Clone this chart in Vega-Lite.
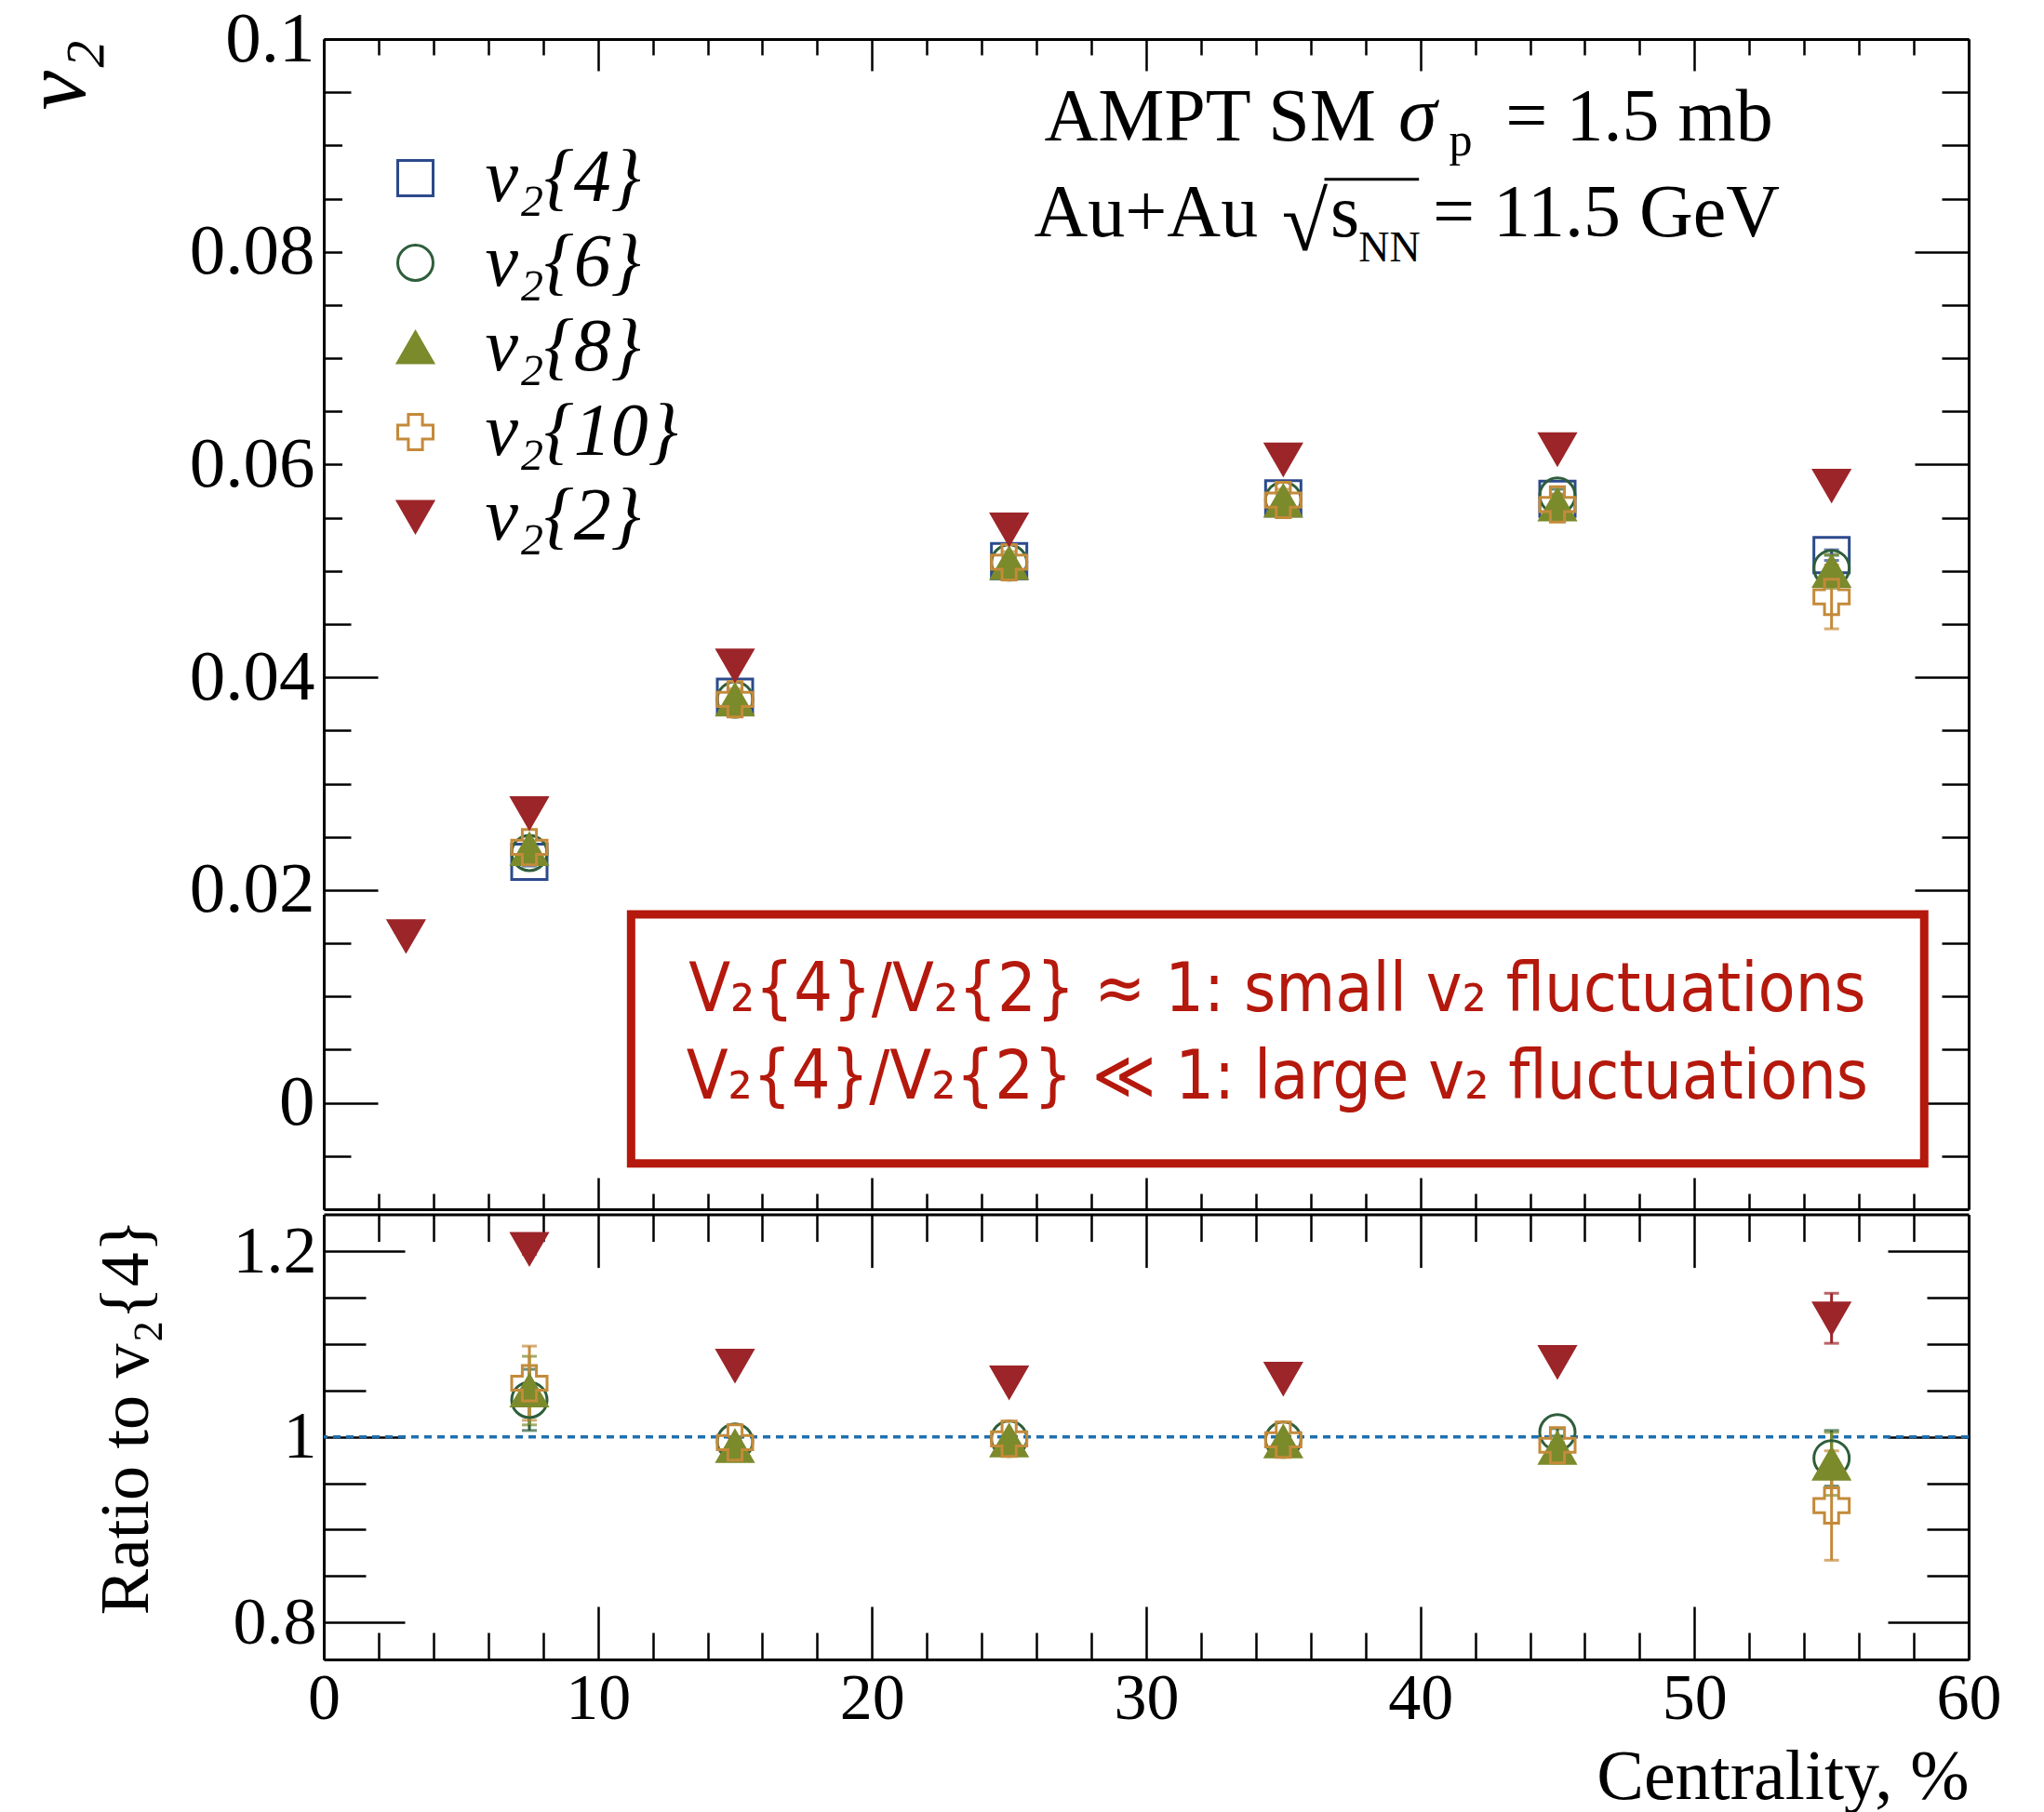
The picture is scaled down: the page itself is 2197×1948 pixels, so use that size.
{
  "$schema": "https://vega.github.io/schema/vega-lite/v6.json",
  "width": 1768,
  "height": 1742,
  "autosize": {"type": "none"},
  "padding": {"left": 348, "top": 42, "right": 81, "bottom": 164},
  "background": "white",
  "config": {
    "view": {"stroke": null},
    "font": "Liberation Serif",
    "axis": {"grid": false, "labelFont": "Liberation Serif", "titleFont": "Liberation Serif", "domainColor": "black", "tickColor": "black", "labelColor": "black", "titleColor": "black", "domainWidth": 3, "tickWidth": 2.5, "labelOverlap": false, "labelFlush": false, "titleFontWeight": "normal", "labelFontWeight": "normal"}
  },
  "datasets": {
    "top": [
      {"series": "v₂{4}", "x": 7.5, "v": 0.02266, "err": 0.0004},
      {"series": "v₂{4}", "x": 15, "v": 0.03818, "err": 0.0004},
      {"series": "v₂{4}", "x": 25, "v": 0.05092, "err": 0.0004},
      {"series": "v₂{4}", "x": 35, "v": 0.05683, "err": 0.0004},
      {"series": "v₂{4}", "x": 45, "v": 0.05679, "err": 0.0004},
      {"series": "v₂{4}", "x": 55, "v": 0.05149, "err": 0.0005},
      {"series": "v₂{6}", "x": 7.5, "v": 0.0235, "err": 0.0006},
      {"series": "v₂{6}", "x": 15, "v": 0.03792, "err": 0.0006},
      {"series": "v₂{6}", "x": 25, "v": 0.05079, "err": 0.0006},
      {"series": "v₂{6}", "x": 35, "v": 0.0567, "err": 0.0006},
      {"series": "v₂{6}", "x": 45, "v": 0.05708, "err": 0.0006},
      {"series": "v₂{6}", "x": 55, "v": 0.05027, "err": 0.0012},
      {"series": "v₂{8}", "x": 7.5, "v": 0.02384, "err": 0.0008},
      {"series": "v₂{8}", "x": 15, "v": 0.0379, "err": 0.0008},
      {"series": "v₂{8}", "x": 25, "v": 0.05073, "err": 0.0008},
      {"series": "v₂{8}", "x": 35, "v": 0.05658, "err": 0.0008},
      {"series": "v₂{8}", "x": 45, "v": 0.05623, "err": 0.0008},
      {"series": "v₂{8}", "x": 55, "v": 0.04997, "err": 0.0016},
      {"series": "v₂{10}", "x": 7.5, "v": 0.02403, "err": 0.001},
      {"series": "v₂{10}", "x": 15, "v": 0.03793, "err": 0.001},
      {"series": "v₂{10}", "x": 25, "v": 0.05082, "err": 0.001},
      {"series": "v₂{10}", "x": 35, "v": 0.05667, "err": 0.001},
      {"series": "v₂{10}", "x": 45, "v": 0.05625, "err": 0.001},
      {"series": "v₂{10}", "x": 55, "v": 0.04756, "err": 0.003},
      {"series": "v₂{2}", "x": 3, "v": 0.0157, "err": 0.0002},
      {"series": "v₂{2}", "x": 7.5, "v": 0.02725, "err": 0.0002},
      {"series": "v₂{2}", "x": 15, "v": 0.04114, "err": 0.0002},
      {"series": "v₂{2}", "x": 25, "v": 0.05392, "err": 0.0002},
      {"series": "v₂{2}", "x": 35, "v": 0.0605, "err": 0.0002},
      {"series": "v₂{2}", "x": 45, "v": 0.06146, "err": 0.0002},
      {"series": "v₂{2}", "x": 55, "v": 0.05804, "err": 0.0002}
    ],
    "ratio": [
      {"series": "v₂{6}", "x": 7.5, "r": 1.04, "err": 0.033},
      {"series": "v₂{6}", "x": 15, "r": 0.995, "err": 0.004},
      {"series": "v₂{6}", "x": 25, "r": 0.998, "err": 0.004},
      {"series": "v₂{6}", "x": 35, "r": 0.997, "err": 0.004},
      {"series": "v₂{6}", "x": 45, "r": 1.005, "err": 0.004},
      {"series": "v₂{6}", "x": 55, "r": 0.977, "err": 0.03},
      {"series": "v₂{8}", "x": 7.5, "r": 1.05, "err": 0.037},
      {"series": "v₂{8}", "x": 15, "r": 0.99, "err": 0.005},
      {"series": "v₂{8}", "x": 25, "r": 0.996, "err": 0.005},
      {"series": "v₂{8}", "x": 35, "r": 0.995, "err": 0.005},
      {"series": "v₂{8}", "x": 45, "r": 0.988, "err": 0.006},
      {"series": "v₂{8}", "x": 55, "r": 0.971, "err": 0.034},
      {"series": "v₂{10}", "x": 7.5, "r": 1.058, "err": 0.04},
      {"series": "v₂{10}", "x": 15, "r": 0.994, "err": 0.006},
      {"series": "v₂{10}", "x": 25, "r": 0.998, "err": 0.006},
      {"series": "v₂{10}", "x": 35, "r": 0.997, "err": 0.006},
      {"series": "v₂{10}", "x": 45, "r": 0.991, "err": 0.007},
      {"series": "v₂{10}", "x": 55, "r": 0.926, "err": 0.059},
      {"series": "v₂{2}", "x": 7.5, "r": 1.203, "err": 0.006},
      {"series": "v₂{2}", "x": 15, "r": 1.077, "err": 0.003},
      {"series": "v₂{2}", "x": 25, "r": 1.059, "err": 0.003},
      {"series": "v₂{2}", "x": 35, "r": 1.063, "err": 0.003},
      {"series": "v₂{2}", "x": 45, "r": 1.081, "err": 0.003},
      {"series": "v₂{2}", "x": 55, "r": 1.128, "err": 0.027}
    ]
  },
  "layer": [
    {
      "layer": [
        {
          "data": {"values": [{}]},
          "mark": {"type": "rect", "fill": "white", "stroke": "#b5180c", "strokeWidth": 9},
          "encoding": {
            "x": {"datum": 11.21, "type": "quantitative", "scale": {"domain": [0, 60], "nice": false, "zero": false},
              "axis": {"orient": "top", "title": null, "labels": false, "values": [0,2,4,6,8,10,12,14,16,18,20,22,24,26,28,30,32,34,36,38,40,42,44,46,48,50,52,54,56,58,60],
                "tickSize": {"condition": {"test": "datum.value % 10 == 0", "value": -34}, "value": -17}}},
            "x2": {"datum": 58.38},
            "y": {"datum": 0.01771, "type": "quantitative", "scale": {"domain": [-0.01, 0.1], "range": [1258, 0], "nice": false, "zero": false},
              "axis": {"orient": "left", "values": [-0.005,0,0.005,0.01,0.015,0.02,0.025,0.03,0.035,0.04,0.045,0.05,0.055,0.06,0.065,0.07,0.075,0.08,0.085,0.09,0.095,0.1],
                "labelExpr": "abs(datum.value*50 - round(datum.value*50)) < 0.001 ? format(datum.value, '.2~f') : ''",
                "labelFontSize": 77, "labelPadding": 68, "labelAlign": "right", "labelBaseline": "middle",
                "tickSize": {"condition": {"test": "abs(datum.value*50 - round(datum.value*50)) < 0.001", "value": -58}, "value": -29},
                "title": "v₂", "titleFontSize": 96, "titleFontStyle": "italic", "titleAngle": -90, "titleAlign": "right", "titleBaseline": "alphabetic", "titleX": -258, "titleY": 0}},
            "y2": {"datum": -0.0057}
          }
        },
        {
          "data": {"values": [{}]},
          "mark": {"type": "text", "text": "V₂{4}/V₂{2} ≈ 1: small v₂ fluctuations", "font": "'DejaVu Sans Condensed', 'Liberation Sans Narrow', 'DejaVu Sans'", "fontSize": 73, "color": "#b5180c", "align": "center", "baseline": "alphabetic"},
          "encoding": {
            "x": {"datum": 34.78, "type": "quantitative", "axis": null},
            "y": {"datum": 0.00862, "type": "quantitative", "axis": null}
          }
        },
        {
          "data": {"values": [{}]},
          "mark": {"type": "text", "text": "V₂{4}/V₂{2} ≪ 1: large v₂ fluctuations", "font": "'DejaVu Sans Condensed', 'Liberation Sans Narrow', 'DejaVu Sans'", "fontSize": 73, "color": "#b5180c", "align": "center", "baseline": "alphabetic"},
          "encoding": {
            "x": {"datum": 34.78, "type": "quantitative", "axis": null},
            "y": {"datum": 0.00044, "type": "quantitative", "axis": null}
          }
        },
        {
          "data": {"values": [{}]},
          "mark": {"type": "text", "text": "AMPT SM", "font": "Liberation Serif", "fontSize": 80, "color": "black", "align": "left", "baseline": "alphabetic"},
          "encoding": {"x": {"datum": 26.28, "type": "quantitative", "axis": null}, "y": {"datum": 0.09045, "type": "quantitative", "axis": null}}
        },
        {
          "data": {"values": [{}]},
          "mark": {"type": "text", "text": "σ", "font": "Liberation Serif", "fontStyle": "italic", "fontSize": 84, "color": "black", "align": "left", "baseline": "alphabetic"},
          "encoding": {"x": {"datum": 39.2, "type": "quantitative", "axis": null}, "y": {"datum": 0.09045, "type": "quantitative", "axis": null}}
        },
        {
          "data": {"values": [{}]},
          "mark": {"type": "text", "text": "p", "font": "Liberation Serif", "fontSize": 50, "color": "black", "align": "left", "baseline": "alphabetic"},
          "encoding": {"x": {"datum": 41.05, "type": "quantitative", "axis": null}, "y": {"datum": 0.08911, "type": "quantitative", "axis": null}}
        },
        {
          "data": {"values": [{}]},
          "mark": {"type": "text", "text": "= 1.5 mb", "font": "Liberation Serif", "fontSize": 80, "color": "black", "align": "left", "baseline": "alphabetic"},
          "encoding": {"x": {"datum": 43.11, "type": "quantitative", "axis": null}, "y": {"datum": 0.09045, "type": "quantitative", "axis": null}}
        },
        {
          "data": {"values": [{}]},
          "mark": {"type": "text", "text": "Au+Au", "font": "Liberation Serif", "fontSize": 80, "color": "black", "align": "left", "baseline": "alphabetic"},
          "encoding": {"x": {"datum": 25.91, "type": "quantitative", "axis": null}, "y": {"datum": 0.08143, "type": "quantitative", "axis": null}}
        },
        {
          "data": {"values": [{}]},
          "mark": {"type": "text", "text": "√", "font": "Liberation Serif", "fontSize": 90, "color": "black", "align": "left", "baseline": "alphabetic"},
          "encoding": {"x": {"datum": 34.95, "type": "quantitative", "axis": null}, "y": {"datum": 0.08011, "type": "quantitative", "axis": null}}
        },
        {
          "data": {"values": [{}]},
          "mark": {"type": "rule", "color": "black", "strokeWidth": 3},
          "encoding": {"x": {"datum": 36.5, "type": "quantitative", "axis": null}, "x2": {"datum": 39.95}, "y": {"datum": 0.08682, "type": "quantitative", "axis": null}}
        },
        {
          "data": {"values": [{}]},
          "mark": {"type": "text", "text": "s", "font": "Liberation Serif", "fontSize": 80, "color": "black", "align": "left", "baseline": "alphabetic"},
          "encoding": {"x": {"datum": 36.72, "type": "quantitative", "axis": null}, "y": {"datum": 0.08143, "type": "quantitative", "axis": null}}
        },
        {
          "data": {"values": [{}]},
          "mark": {"type": "text", "text": "NN", "font": "Liberation Serif", "fontSize": 46, "color": "black", "align": "left", "baseline": "alphabetic"},
          "encoding": {"x": {"datum": 37.75, "type": "quantitative", "axis": null}, "y": {"datum": 0.07909, "type": "quantitative", "axis": null}}
        },
        {
          "data": {"values": [{}]},
          "mark": {"type": "text", "text": "= 11.5 GeV", "font": "Liberation Serif", "fontSize": 80, "color": "black", "align": "left", "baseline": "alphabetic"},
          "encoding": {"x": {"datum": 40.45, "type": "quantitative", "axis": null}, "y": {"datum": 0.08143, "type": "quantitative", "axis": null}}
        },
        {
          "data": {"name": "top"},
          "mark": {"type": "errorbar", "ticks": {"size": 16}, "thickness": 3},
          "encoding": {
            "x": {"field": "x", "type": "quantitative", "axis": null},
            "y": {"field": "v", "type": "quantitative", "axis": null},
            "yError": {"field": "err"},
            "color": {"field": "series", "type": "nominal", "legend": null,
              "scale": {"domain": ["v₂{2}", "v₂{4}", "v₂{6}", "v₂{8}", "v₂{10}"], "range": ["#9c2529", "#2c4a8c", "#2e5e3b", "#7b8a2b", "#c48a3a"]}}
          }
        },
        {
          "data": {"name": "top"},
          "mark": {"type": "point", "opacity": 1, "strokeWidth": 3, "size": 1444},
          "encoding": {
            "x": {"field": "x", "type": "quantitative",
              "axis": {"orient": "bottom", "offset": -484, "title": null, "labels": false, "values": [0,2,4,6,8,10,12,14,16,18,20,22,24,26,28,30,32,34,36,38,40,42,44,46,48,50,52,54,56,58,60],
                "tickSize": {"condition": {"test": "datum.value % 10 == 0", "value": -34}, "value": -17}}},
            "y": {"field": "v", "type": "quantitative",
              "axis": {"orient": "right", "title": null, "labels": false, "values": [-0.005,0,0.005,0.01,0.015,0.02,0.025,0.03,0.035,0.04,0.045,0.05,0.055,0.06,0.065,0.07,0.075,0.08,0.085,0.09,0.095,0.1],
                "tickSize": {"condition": {"test": "abs(datum.value*50 - round(datum.value*50)) < 0.001", "value": -58}, "value": -29}}},
            "shape": {"field": "series", "type": "nominal",
              "legend": {"title": null, "orient": "none", "legendX": 20, "legendY": 71, "padding": 38.5, "fillColor": "white", "direction": "vertical", "labelFont": "Liberation Serif", "labelFontSize": 80, "labelFontStyle": "italic", "labelColor": "black", "labelOffset": 35, "symbolSize": 1444, "symbolStrokeWidth": 3, "symbolOpacity": 1, "rowPadding": 11, "labelLimit": 600},
              "scale": {"domain": ["v₂{4}", "v₂{6}", "v₂{8}", "v₂{10}", "v₂{2}"], "range": ["square", "circle", "triangle-up", "cross", "triangle-down"]}},
            "stroke": {"field": "series", "type": "nominal",
              "legend": {"title": null, "orient": "none", "legendX": 20, "legendY": 71, "padding": 38.5, "fillColor": "white", "direction": "vertical", "labelFont": "Liberation Serif", "labelFontSize": 80, "labelFontStyle": "italic", "labelColor": "black", "labelOffset": 35, "symbolSize": 1444, "symbolStrokeWidth": 3, "symbolOpacity": 1, "rowPadding": 11, "labelLimit": 600},
              "scale": {"domain": ["v₂{4}", "v₂{6}", "v₂{8}", "v₂{10}", "v₂{2}"], "range": ["#2c4a8c", "#2e5e3b", "#7b8a2b", "#c48a3a", "#9c2529"]}},
            "fill": {"field": "series", "type": "nominal",
              "legend": {"title": null, "orient": "none", "legendX": 20, "legendY": 71, "padding": 38.5, "fillColor": "white", "direction": "vertical", "labelFont": "Liberation Serif", "labelFontSize": 80, "labelFontStyle": "italic", "labelColor": "black", "labelOffset": 35, "symbolSize": 1444, "symbolStrokeWidth": 3, "symbolOpacity": 1, "rowPadding": 11, "labelLimit": 600},
              "scale": {"domain": ["v₂{4}", "v₂{6}", "v₂{8}", "v₂{10}", "v₂{2}"], "range": ["transparent", "transparent", "#7b8a2b", "transparent", "#9c2529"]}}
          }
        }
      ],
      "resolve": {"axis": {"x": "independent", "y": "independent"}}
    },
    {
      "layer": [
        {
          "data": {"values": [{}]},
          "mark": {"type": "rule", "color": "#1f6fae", "strokeWidth": 3.5, "strokeDash": [8, 6]},
          "encoding": {
            "y": {"datum": 1, "type": "quantitative", "scale": {"domain": [0.76, 1.24], "range": [1742, 1263.6], "nice": false, "zero": false},
              "axis": {"orient": "right", "title": null, "labels": false, "values": [0.8,0.85,0.9,0.95,1,1.05,1.1,1.15,1.2],
                "tickSize": {"condition": {"test": "abs(datum.value*5 - round(datum.value*5)) < 0.001", "value": -87}, "value": -45}}}
          }
        },
        {
          "data": {"name": "ratio"},
          "mark": {"type": "errorbar", "ticks": {"size": 16}, "thickness": 3},
          "encoding": {
            "x": {"field": "x", "type": "quantitative",
              "axis": {"orient": "top", "offset": -1263.6, "title": null, "labels": false, "values": [0,2,4,6,8,10,12,14,16,18,20,22,24,26,28,30,32,34,36,38,40,42,44,46,48,50,52,54,56,58,60],
                "tickSize": {"condition": {"test": "datum.value % 10 == 0", "value": -57}, "value": -29}}},
            "y": {"field": "r", "type": "quantitative", "axis": null},
            "yError": {"field": "err"},
            "color": {"field": "series", "type": "nominal", "legend": null,
              "scale": {"domain": ["v₂{2}", "v₂{4}", "v₂{6}", "v₂{8}", "v₂{10}"], "range": ["#9c2529", "#2c4a8c", "#2e5e3b", "#7b8a2b", "#c48a3a"]}}
          }
        },
        {
          "data": {"name": "ratio"},
          "mark": {"type": "point", "opacity": 1, "strokeWidth": 3, "size": 1444},
          "encoding": {
            "x": {"field": "x", "type": "quantitative",
              "axis": {"orient": "bottom", "values": [0,2,4,6,8,10,12,14,16,18,20,22,24,26,28,30,32,34,36,38,40,42,44,46,48,50,52,54,56,58,60],
                "labelExpr": "datum.value % 10 == 0 ? format(datum.value, 'd') : ''",
                "labelFontSize": 70, "labelPadding": 65, "labelBaseline": "top", "labelAlign": "center",
                "tickSize": {"condition": {"test": "datum.value % 10 == 0", "value": -57}, "value": -29},
                "title": "Centrality, %", "titleFontSize": 76, "titleAlign": "right", "titleBaseline": "alphabetic", "titleX": 1768, "titleY": 149, "titleAngle": 0}},
            "y": {"field": "r", "type": "quantitative",
              "axis": {"orient": "left", "values": [0.8,0.85,0.9,0.95,1,1.05,1.1,1.15,1.2],
                "labelExpr": "abs(datum.value*5 - round(datum.value*5)) < 0.001 ? format(datum.value, '.1~f') : ''",
                "labelFontSize": 72, "labelPadding": 95, "labelAlign": "right", "labelBaseline": "middle",
                "tickSize": {"condition": {"test": "abs(datum.value*5 - round(datum.value*5)) < 0.001", "value": -87}, "value": -45},
                "title": "Ratio to v₂{4}", "titleFontSize": 74, "titleAngle": -90, "titleAlign": "center", "titleBaseline": "alphabetic", "titleX": -190, "titleY": 1481}},
            "shape": {"field": "series", "type": "nominal",
              "legend": {"title": null, "orient": "none", "legendX": 20, "legendY": 71, "padding": 38.5, "fillColor": "white", "direction": "vertical", "labelFont": "Liberation Serif", "labelFontSize": 80, "labelFontStyle": "italic", "labelColor": "black", "labelOffset": 35, "symbolSize": 1444, "symbolStrokeWidth": 3, "symbolOpacity": 1, "rowPadding": 11, "labelLimit": 600},
              "scale": {"domain": ["v₂{4}", "v₂{6}", "v₂{8}", "v₂{10}", "v₂{2}"], "range": ["square", "circle", "triangle-up", "cross", "triangle-down"]}},
            "stroke": {"field": "series", "type": "nominal",
              "legend": {"title": null, "orient": "none", "legendX": 20, "legendY": 71, "padding": 38.5, "fillColor": "white", "direction": "vertical", "labelFont": "Liberation Serif", "labelFontSize": 80, "labelFontStyle": "italic", "labelColor": "black", "labelOffset": 35, "symbolSize": 1444, "symbolStrokeWidth": 3, "symbolOpacity": 1, "rowPadding": 11, "labelLimit": 600},
              "scale": {"domain": ["v₂{4}", "v₂{6}", "v₂{8}", "v₂{10}", "v₂{2}"], "range": ["#2c4a8c", "#2e5e3b", "#7b8a2b", "#c48a3a", "#9c2529"]}},
            "fill": {"field": "series", "type": "nominal",
              "legend": {"title": null, "orient": "none", "legendX": 20, "legendY": 71, "padding": 38.5, "fillColor": "white", "direction": "vertical", "labelFont": "Liberation Serif", "labelFontSize": 80, "labelFontStyle": "italic", "labelColor": "black", "labelOffset": 35, "symbolSize": 1444, "symbolStrokeWidth": 3, "symbolOpacity": 1, "rowPadding": 11, "labelLimit": 600},
              "scale": {"domain": ["v₂{4}", "v₂{6}", "v₂{8}", "v₂{10}", "v₂{2}"], "range": ["transparent", "transparent", "#7b8a2b", "transparent", "#9c2529"]}}
          }
        }
      ],
      "resolve": {"axis": {"x": "independent", "y": "independent"}}
    }
  ],
  "resolve": {"scale": {"y": "independent"}, "axis": {"x": "independent", "y": "independent"}}
}
